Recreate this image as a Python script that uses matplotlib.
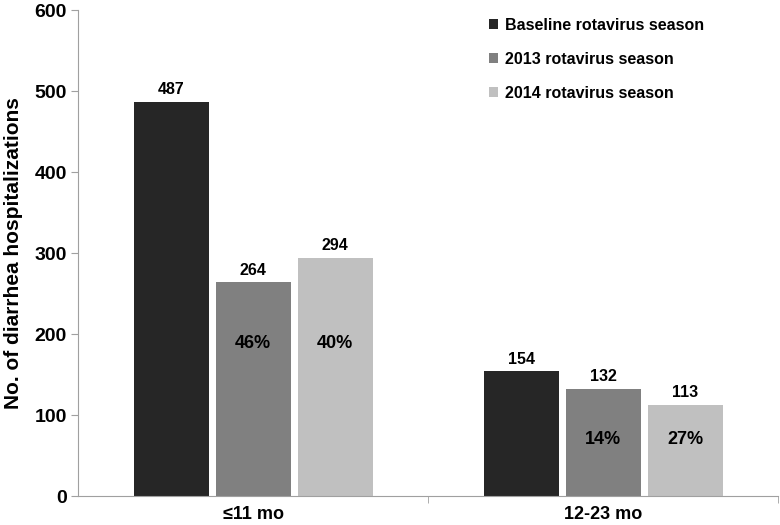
import numpy as np
import matplotlib.pyplot as plt

plt.rcParams['font.family'] = ['Liberation Sans', 'DejaVu Sans']
plt.rcParams['font.weight'] = 'bold'

# data
age_groups = ['≤11 mo', '12-23 mo']
seasons = ['Baseline rotavirus season', '2013 rotavirus season', '2014 rotavirus season']
baseline = [487, 154]
season_2013 = [264, 132]
season_2014 = [294, 113]
drop_2013 = ['46%', '14%']
drop_2014 = ['40%', '27%']

colors = ['#262626', '#808080', '#c0c0c0']
pct_y = [188, 70]  # vertical placement of percent labels per group

fig = plt.figure(figsize=(7.8, 5.25), dpi=100)
ax = fig.add_axes([0.1, 0.055, 0.898, 0.925])

x = np.arange(len(age_groups))
width = 0.214
step = 0.234
series = [baseline, season_2013, season_2014]
for i, (vals, c, lab) in enumerate(zip(series, colors, seasons)):
    pos = x + (i - 1) * step
    ax.bar(pos, vals, width=width, color=c, label=lab, zorder=2)
    for p, v in zip(pos, vals):
        ax.text(p, v + 6, str(v), ha='center', va='bottom', fontsize=11.5, fontweight='bold')

for j in range(len(age_groups)):
    ax.text(x[j], pct_y[j], drop_2013[j], ha='center', va='center', fontsize=13, fontweight='bold')
    ax.text(x[j] + step, pct_y[j], drop_2014[j], ha='center', va='center', fontsize=13, fontweight='bold')

ax.set_xlim(-0.5, 1.5)
ax.set_ylim(0, 600)
ax.set_yticks(range(0, 601, 100))
ax.set_xticks(x)
ax.set_xticklabels(age_groups, fontsize=13, fontweight='bold')
ax.set_xticks([0.5, 1.5], minor=True)
ax.tick_params(axis='x', which='major', length=0, pad=7)
ax.tick_params(axis='x', which='minor', length=5, color='#a0a0a0')
ax.tick_params(axis='y', length=5, color='#a0a0a0', labelsize=14, pad=3)
for t in ax.get_yticklabels():
    t.set_fontweight('bold')
ax.set_ylabel('No. of diarrhea hospitalizations', fontsize=15, fontweight='bold', labelpad=8)

for s in ['top', 'right']:
    ax.spines[s].set_visible(False)
for s in ['left', 'bottom']:
    ax.spines[s].set_color('#a0a0a0')

leg = ax.legend(loc='upper left', bbox_to_anchor=(0.566, 1.015), frameon=False, fontsize=11.5,
                handlelength=0.6, handleheight=0.6, handletextpad=0.4, labelspacing=1.2)
for t in leg.get_texts():
    t.set_fontweight('bold')

fig.savefig('out.png', dpi=100)
